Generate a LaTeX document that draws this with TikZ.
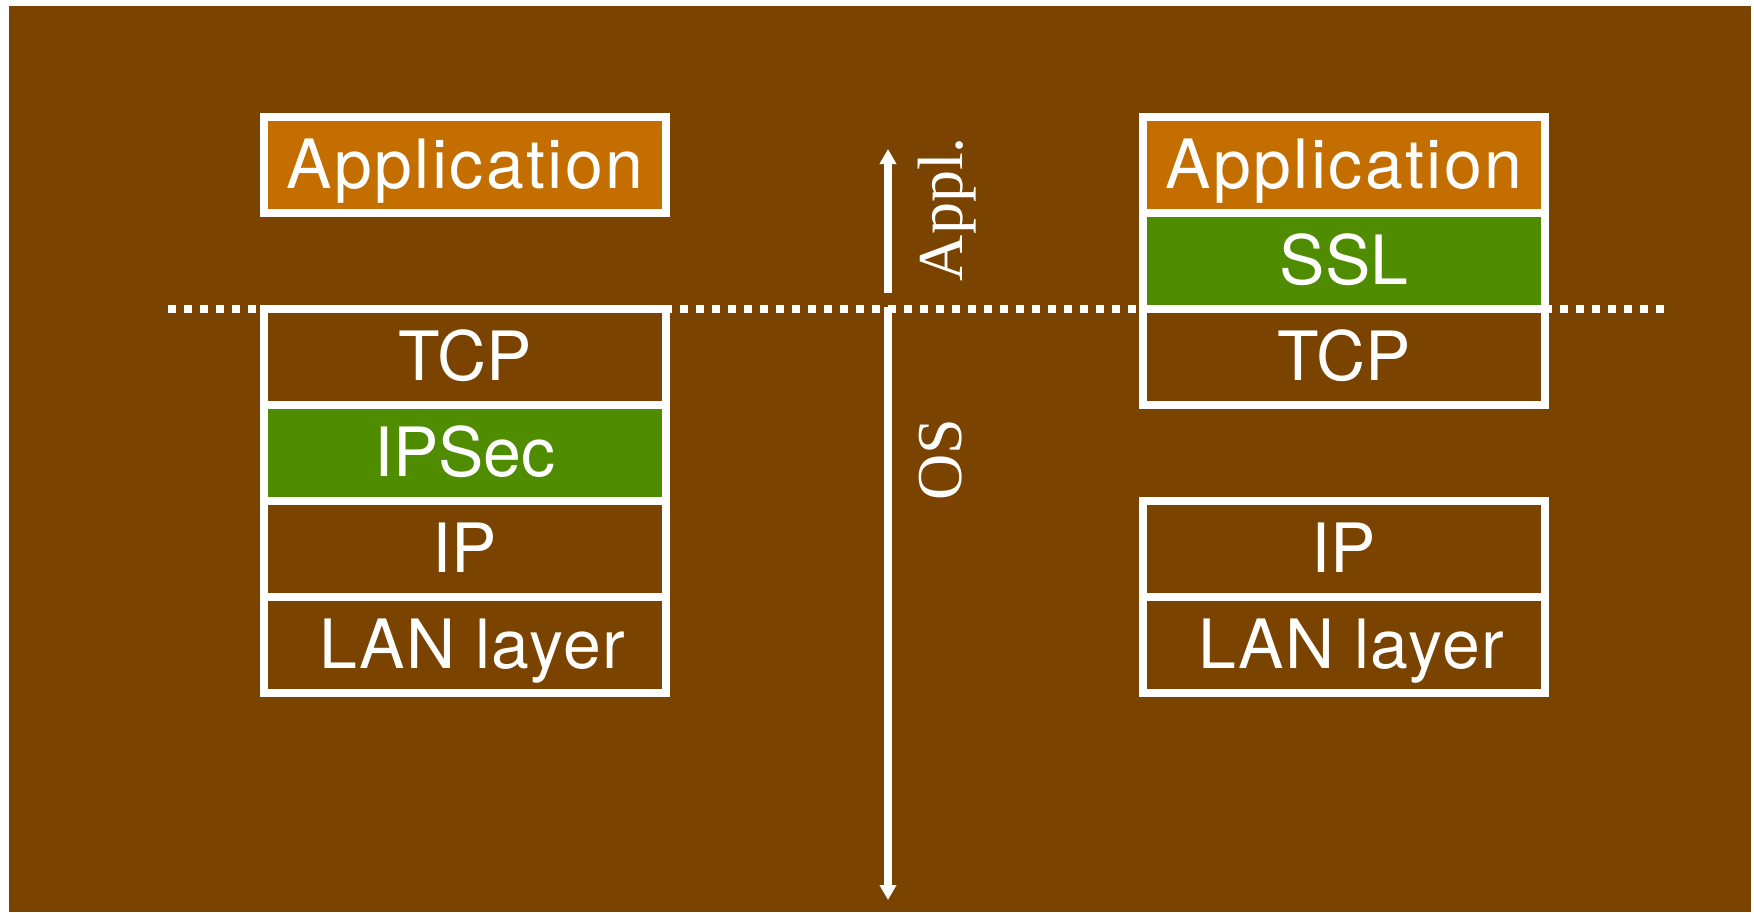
\documentclass[tikz,border=0pt]{standalone}
\usepackage{fontspec}
\setmainfont{TeX Gyre Heros}
\newfontfamily\serifA{Liberation Serif}
\newfontfamily\wideSans[LetterSpace=3.5]{TeX Gyre Heros}
\newfontfamily\semiwideSans[LetterSpace=2]{TeX Gyre Heros}
\usetikzlibrary{arrows.meta}
\definecolor{bgbrown}{RGB}{122,67,0}
\definecolor{apporange}{RGB}{196,110,0}
\definecolor{secgreen}{RGB}{79,140,0}
\begin{document}
\begin{tikzpicture}[x=0.5pt,y=-0.5pt,
  layer/.style={draw=white, line width=4pt, minimum width=201pt, minimum height=48pt,
    inner sep=0pt, text=white, font=\fontsize{34}{40}\selectfont,
    text height=24.4pt, text depth=0pt, fill=bgbrown},
  applayer/.style={layer, fill=apporange, font=\wideSans\fontsize{34}{40}\selectfont},
  seclayer/.style={layer, fill=secgreen},
  lanlayer/.style={layer, font=\semiwideSans\fontsize{34}{40}\selectfont},
  sidelabel/.style={rotate=90, anchor=base, text=white, inner sep=0pt, font=\serifA\fontsize{32}{38}\selectfont},
  arr/.style={draw=white, line width=4pt, -{Triangle[width=8pt,length=7.5pt]}},
  divider/.style={draw=white, line width=4pt, dash pattern=on 4pt off 4pt}
]
\useasboundingbox (0,0) rectangle (1754,912);
\fill[white] (0,0) rectangle (1754,912);
\fill[bgbrown] (9,6) rectangle (1751,912);

% divider line and side arrows
\coordinate (dl) at (168,308.5);
\coordinate (dr) at (1664,308.5);
\draw[divider] (dl) -- (dr);
\coordinate (upS) at (888,293);
\coordinate (upE) at (888,149);
\coordinate (dnS) at (888,307);
\coordinate (dnE) at (888,900);
\draw[arr] (upS) -- (upE);
\draw[arr] (dnS) -- (dnE);
\node[sidelabel] (appl) at (962,209) {Appl.};
\node[sidelabel] (os) at (961,460) {OS};

% left stack
\node[applayer] (lapp) at (465,164.5) {Application};
\node[layer] (ltcp) at (465,356.5) {TCP};
\node[seclayer] (lipsec) at (465,452.5) {IPSec};
\node[layer] (lip) at (465,548.5) {IP};
\node[lanlayer] (llan) at (465,644.5) {\hspace*{7pt}LAN layer};

% right stack
\node[applayer] (rapp) at (1344,164.5) {Application};
\node[seclayer] (rssl) at (1344,260.5) {SSL};
\node[layer] (rtcp) at (1344,356.5) {TCP};
\node[layer] (rip) at (1344,548.5) {IP};
\node[lanlayer] (rlan) at (1344,644.5) {\hspace*{7pt}LAN layer};
\end{tikzpicture}
\end{document}
